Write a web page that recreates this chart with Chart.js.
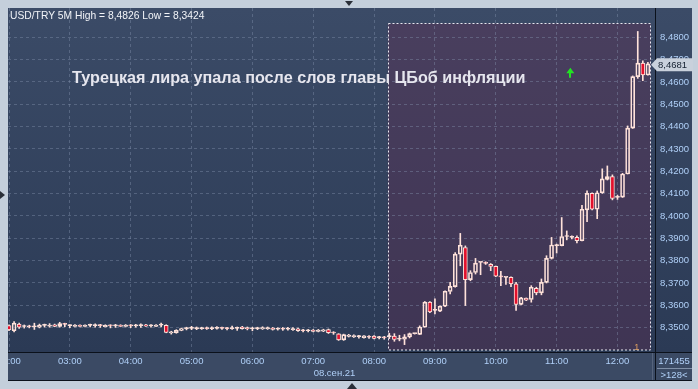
<!DOCTYPE html>
<html>
<head>
<meta charset="utf-8">
<script src="https://cdn.jsdelivr.net/npm/chart.js@4.4.1/dist/chart.umd.min.js"></script>
<style>
  html, body { margin: 0; padding: 0; background: #c4cfdb; }
  #wrap { width: 698px; height: 389px; position: relative; }
</style>
</head>
<body>
<div id="wrap"><canvas id="chart"></canvas></div>
<script>
// USD/TRY 5M candles, 02:00 .. 12:30 (08.09.21)
const opens = [
  8.3509, 8.3486, 8.3516, 8.3505, 8.3505, 8.3504, 8.3502, 8.3510, 8.3507, 8.3513,
  8.3506, 8.3517, 8.3509, 8.3505, 8.3511, 8.3505, 8.3510, 8.3509, 8.3510, 8.3504,
  8.3509, 8.3508, 8.3511, 8.3505, 8.3509, 8.3508, 8.3509, 8.3513, 8.3508, 8.3505,
  8.3511, 8.3510, 8.3476, 8.3477, 8.3488, 8.3496, 8.3497, 8.3496, 8.3496, 8.3497,
  8.3496, 8.3497, 8.3498, 8.3497, 8.3496, 8.3497, 8.3503, 8.3500, 8.3495, 8.3496,
  8.3494, 8.3495, 8.3498, 8.3493, 8.3494, 8.3493, 8.3491, 8.3495, 8.3487, 8.3486,
  8.3489, 8.3483, 8.3484, 8.3491, 8.3477, 8.3472, 8.3445, 8.3461, 8.3459, 8.3460,
  8.3455, 8.3458, 8.3462, 8.3455, 8.3455, 8.3460, 8.3462, 8.3448, 8.3448, 8.3459,
  8.3473, 8.3470, 8.3502, 8.3614, 8.3577, 8.3574, 8.3596, 8.3662, 8.3684, 8.3829,
  8.3859, 8.3715, 8.3747, 8.3792, 8.3789, 8.3784, 8.3774, 8.3728, 8.3725, 8.3725,
  8.3696, 8.3604, 8.3632, 8.3626, 8.3676, 8.3656, 8.3703, 8.3810, 8.3867, 8.3867,
  8.3908, 8.3904, 8.3904, 8.3889, 8.4027, 8.4101, 8.4030, 8.4104, 8.4164, 8.4176,
  8.4083, 8.4084, 8.4188, 8.4393, 8.4624, 8.4684, 8.4631
];
const highs = [
  8.3513, 8.3527, 8.3521, 8.3512, 8.3511, 8.3520, 8.3516, 8.3516, 8.3518, 8.3516,
  8.3524, 8.3520, 8.3514, 8.3514, 8.3513, 8.3513, 8.3516, 8.3517, 8.3515, 8.3513,
  8.3513, 8.3515, 8.3513, 8.3514, 8.3514, 8.3515, 8.3517, 8.3515, 8.3514, 8.3514,
  8.3521, 8.3513, 8.3484, 8.3491, 8.3498, 8.3502, 8.3506, 8.3503, 8.3502, 8.3503,
  8.3504, 8.3505, 8.3503, 8.3502, 8.3507, 8.3503, 8.3506, 8.3503, 8.3502, 8.3502,
  8.3504, 8.3503, 8.3501, 8.3500, 8.3501, 8.3501, 8.3500, 8.3498, 8.3493, 8.3492,
  8.3492, 8.3492, 8.3493, 8.3494, 8.3482, 8.3473, 8.3471, 8.3470, 8.3468, 8.3466,
  8.3465, 8.3464, 8.3464, 8.3461, 8.3461, 8.3475, 8.3473, 8.3466, 8.3469, 8.3476,
  8.3476, 8.3508, 8.3617, 8.3617, 8.3629, 8.3598, 8.3665, 8.3703, 8.3836, 8.3922,
  8.3866, 8.3755, 8.3810, 8.3795, 8.3795, 8.3787, 8.3776, 8.3752, 8.3728, 8.3728,
  8.3703, 8.3636, 8.3633, 8.3688, 8.3681, 8.3718, 8.3822, 8.3904, 8.3874, 8.3993,
  8.3933, 8.3911, 8.3911, 8.4048, 8.4112, 8.4104, 8.4112, 8.4211, 8.4224, 8.4184,
  8.4093, 8.4191, 8.4403, 8.4627, 8.4826, 8.4695, 8.4688
];
const lows = [
  8.3486, 8.3481, 8.3497, 8.3498, 8.3499, 8.3492, 8.3499, 8.3503, 8.3502, 8.3504,
  8.3502, 8.3504, 8.3500, 8.3503, 8.3503, 8.3503, 8.3503, 8.3502, 8.3501, 8.3503,
  8.3499, 8.3501, 8.3504, 8.3503, 8.3500, 8.3502, 8.3501, 8.3505, 8.3502, 8.3504,
  8.3503, 8.3477, 8.3471, 8.3475, 8.3486, 8.3490, 8.3491, 8.3491, 8.3492, 8.3492,
  8.3491, 8.3493, 8.3492, 8.3490, 8.3492, 8.3488, 8.3493, 8.3490, 8.3486, 8.3491,
  8.3492, 8.3492, 8.3489, 8.3489, 8.3488, 8.3489, 8.3488, 8.3483, 8.3481, 8.3481,
  8.3481, 8.3481, 8.3482, 8.3474, 8.3470, 8.3443, 8.3443, 8.3458, 8.3456, 8.3453,
  8.3453, 8.3452, 8.3449, 8.3450, 8.3448, 8.3451, 8.3439, 8.3441, 8.3424, 8.3454,
  8.3471, 8.3469, 8.3502, 8.3567, 8.3562, 8.3572, 8.3594, 8.3651, 8.3681, 8.3777,
  8.3599, 8.3710, 8.3740, 8.3737, 8.3783, 8.3755, 8.3728, 8.3688, 8.3693, 8.3684,
  8.3577, 8.3602, 8.3621, 8.3614, 8.3647, 8.3647, 8.3700, 8.3807, 8.3834, 8.3866,
  8.3893, 8.3897, 8.3879, 8.3888, 8.3974, 8.4027, 8.3988, 8.4101, 8.4161, 8.4072,
  8.4074, 8.4083, 8.4188, 8.4392, 8.4616, 8.4606, 8.4630
];
const closes = [
  8.3490, 8.3520, 8.3502, 8.3505, 8.3504, 8.3505, 8.3511, 8.3510, 8.3510, 8.3506,
  8.3518, 8.3515, 8.3509, 8.3511, 8.3505, 8.3511, 8.3510, 8.3510, 8.3509, 8.3510,
  8.3508, 8.3509, 8.3505, 8.3511, 8.3508, 8.3509, 8.3510, 8.3507, 8.3509, 8.3512,
  8.3512, 8.3479, 8.3481, 8.3488, 8.3496, 8.3496, 8.3497, 8.3497, 8.3497, 8.3496,
  8.3497, 8.3498, 8.3497, 8.3496, 8.3497, 8.3498, 8.3496, 8.3495, 8.3496, 8.3497,
  8.3500, 8.3500, 8.3492, 8.3494, 8.3493, 8.3494, 8.3496, 8.3486, 8.3486, 8.3487,
  8.3483, 8.3489, 8.3490, 8.3477, 8.3476, 8.3445, 8.3469, 8.3467, 8.3465, 8.3461,
  8.3463, 8.3457, 8.3452, 8.3456, 8.3454, 8.3461, 8.3447, 8.3449, 8.3459, 8.3473,
  8.3474, 8.3503, 8.3614, 8.3570, 8.3578, 8.3596, 8.3663, 8.3685, 8.3829, 8.3869,
  8.3715, 8.3747, 8.3789, 8.3793, 8.3788, 8.3774, 8.3730, 8.3727, 8.3726, 8.3696,
  8.3604, 8.3633, 8.3623, 8.3681, 8.3656, 8.3703, 8.3810, 8.3870, 8.3868, 8.3908,
  8.3909, 8.3905, 8.3889, 8.4030, 8.4101, 8.4030, 8.4104, 8.4166, 8.4176, 8.4079,
  8.4084, 8.4188, 8.4393, 8.4624, 8.4684, 8.4631, 8.4681
];
const yTicks = [8.35, 8.36, 8.37, 8.38, 8.39, 8.40, 8.41, 8.42, 8.43, 8.44, 8.45, 8.46, 8.47, 8.48];

// time labels, 5 minute bars starting 02:00
const times = [];
for (let i = 0; i < opens.length; i++) {
  const m = 120 + i * 5;
  times.push(String(Math.floor(m / 60)).padStart(2, '0') + ':' + String(m % 60).padStart(2, '0'));
}
const hourIdx = times.map((t, i) => t.endsWith(':00') ? i : -1).filter(i => i >= 0);

const title = 'Турецкая лира упала после слов главы ЦБоб инфляции';
const header = 'USD/TRY 5M High = 8,4826 Low = 8,3424';
const newsBar = 74.7;      // highlighted zone starts here (bar index)
const FONT = '"Liberation Sans", Arial, sans-serif';
const CANDLE = '#ffe2da';
const LABEL = '#b0d0f8';
const GRID = 'rgba(135, 150, 178, 0.4)';
const comma = v => v.toFixed(4).replace('.', ',');

const upperWick = opens.map((o, i) => ({ x: i, y: [Math.max(o, closes[i]), highs[i]] }));
const lowerWick = opens.map((o, i) => ({ x: i, y: [lows[i], Math.min(o, closes[i])] }));
const bodies = opens.map((o, i) => ({ x: i, y: [Math.min(o, closes[i]), Math.max(o, closes[i])] }));

// panels, highlight zone, overlay texts
const framePlugin = {
  id: 'frame',
  beforeDraw(chart) {
    const { ctx, chartArea: a, scales } = chart;
    ctx.save();
    ctx.fillStyle = '#c4cfdb';
    ctx.fillRect(0, 0, chart.width, chart.height);

    const g = ctx.createLinearGradient(0, a.top, 0, a.bottom);
    g.addColorStop(0, '#3b4b67');
    g.addColorStop(1, '#2b3a55');
    ctx.fillStyle = g;
    ctx.fillRect(a.left, a.top, 692 - a.left, a.bottom - a.top);

    ctx.fillStyle = '#3b4a64';
    ctx.fillRect(a.left, a.bottom, 692 - a.left, 381 - a.bottom);

    // news zone
    const zx = scales.x.getPixelForValue(newsBar);
    const zy = scales.y.getPixelForValue(8.4862);
    ctx.fillStyle = 'rgba(98, 45, 82, 0.38)';
    ctx.fillRect(zx, zy, a.right - 4 - zx, a.bottom - 2 - zy);
    ctx.restore();
  },
  afterDraw(chart) {
    const { ctx, chartArea: a, scales } = chart;
    ctx.save();

    // dashed outline of news zone
    const zx = Math.round(scales.x.getPixelForValue(newsBar)) + 0.5;
    const zy = Math.round(scales.y.getPixelForValue(8.4862)) + 0.5;
    ctx.strokeStyle = '#e8e8f0';
    ctx.lineWidth = 1;
    ctx.setLineDash([2, 2]);
    ctx.strokeRect(zx, zy, a.right - 4.5 - zx, a.bottom - 2 - zy);
    ctx.setLineDash([]);

    // frame lines
    ctx.fillStyle = '#0b111b';
    ctx.fillRect(a.right, a.top, 1, 381 - a.top);
    ctx.fillRect(a.left, a.bottom, 692 - a.left, 1);
    ctx.fillRect(a.left, 380, 692 - a.left, 1);
    ctx.fillStyle = '#56647c';
    ctx.fillRect(a.right - 3, a.bottom + 1, 1, 27);

    // outer border, also clips the first time label
    ctx.fillStyle = '#c4cfdb';
    ctx.fillRect(0, 0, a.left, chart.height);
    ctx.fillRect(0, 0, chart.width, a.top);
    ctx.fillRect(692, 0, 6, chart.height);
    ctx.fillRect(0, 381, chart.width, 8);

    // small frame arrows
    ctx.fillStyle = '#2a2f38';
    ctx.beginPath(); ctx.moveTo(345, 1); ctx.lineTo(353, 1); ctx.lineTo(349, 6); ctx.fill();
    ctx.beginPath(); ctx.moveTo(0, 191); ctx.lineTo(0, 199); ctx.lineTo(5, 195); ctx.fill();
    ctx.beginPath(); ctx.moveTo(347, 389); ctx.lineTo(357, 389); ctx.lineTo(352, 383); ctx.fill();

    // header and title
    ctx.fillStyle = '#f2f4f8';
    ctx.font = '10.3px ' + FONT;
    ctx.textBaseline = 'alphabetic';
    ctx.fillText(header, 10, 18.5);
    ctx.fillStyle = '#e6e6ee';
    ctx.font = 'bold 16.2px ' + FONT;
    ctx.fillText(title, 72, 83);

    // green event arrow
    const ax = scales.x.getPixelForValue(110.7);
    const ay = scales.y.getPixelForValue(8.4641);
    ctx.fillStyle = '#22e422';
    ctx.fillRect(Math.round(ax) - 1, ay - 2, 2, 7);
    ctx.beginPath();
    ctx.moveTo(ax - 4, ay + 0.5); ctx.lineTo(ax + 4, ay + 0.5); ctx.lineTo(ax, ay - 5); ctx.fill();

    // marker "1"
    ctx.fillStyle = '#e0a060';
    ctx.font = '9px ' + FONT;
    ctx.textAlign = 'center';
    ctx.fillText('1', scales.x.getPixelForValue(123.8), a.bottom - 2);

    // last price box
    const last = closes[closes.length - 1];
    const py = scales.y.getPixelForValue(last) + 1;
    ctx.fillStyle = '#c9d1dc';
    ctx.beginPath();
    ctx.moveTo(a.right - 4, py);
    ctx.lineTo(a.right + 2, py - 6.5);
    ctx.lineTo(693, py - 6.5);
    ctx.lineTo(693, py + 6.5);
    ctx.lineTo(a.right + 2, py + 6.5);
    ctx.closePath();
    ctx.fill();
    ctx.fillStyle = '#142030';
    ctx.font = '9.5px ' + FONT;
    ctx.textAlign = 'left';
    ctx.textBaseline = 'middle';
    ctx.fillText(comma(last), a.right + 3, py + 0.5);

    // date and corner box
    ctx.fillStyle = LABEL;
    ctx.textAlign = 'center';
    ctx.fillText('08.сен.21', (a.left + a.right) / 2 + 3, 373);
    ctx.fillText('171455', 674, 361);
    ctx.fillText('>128<', 674, 375);
    ctx.fillStyle = '#8090a8';
    ctx.fillRect(657, 368, 35, 1);
    ctx.restore();
  }
};

new Chart(document.getElementById('chart'), {
  type: 'bar',
  data: {
    datasets: [
      { data: upperWick, grouped: false, barThickness: 1, backgroundColor: CANDLE, borderWidth: 0 },
      { data: lowerWick, grouped: false, barThickness: 1, backgroundColor: CANDLE, borderWidth: 0 },
      {
        data: bodies,
        grouped: false,
        barThickness: 4,
        minBarLength: 1,
        backgroundColor: opens.map((o, i) => closes[i] < o ? '#e3102c' : 'rgba(0,0,0,0)'),
        borderColor: CANDLE,
        borderWidth: 1,
        borderSkipped: false
      }
    ]
  },
  options: {
    responsive: true,
    maintainAspectRatio: false,
    animation: false,
    devicePixelRatio: 1,
    layout: { padding: { left: 8, top: 8, right: 6, bottom: 9 } },
    plugins: { legend: { display: false }, tooltip: { enabled: false } },
    scales: {
      x: {
        type: 'linear',
        min: -0.2,
        max: 127.4,
        offset: false,
        afterBuildTicks: s => { s.ticks = hourIdx.map(v => ({ value: v })); },
        afterFit: s => { s.height = 28; s.paddingLeft = 0; s.paddingRight = 0; },
        ticks: {
          callback: v => times[v],
          color: LABEL,
          font: { size: 9.5, family: FONT },
          padding: 4,
          maxRotation: 0,
          autoSkip: false
        },
        grid: { color: GRID, drawTicks: false, offset: false },
        border: { display: false, dash: [3, 3] }
      },
      y: {
        position: 'right',
        min: 8.3391,
        max: 8.4931,
        afterBuildTicks: s => { s.ticks = yTicks.map(v => ({ value: v })); },
        afterFit: s => { s.width = 37; s.paddingTop = 0; s.paddingBottom = 0; },
        ticks: {
          callback: v => comma(v),
          color: LABEL,
          font: { size: 9.5, family: FONT },
          padding: 5
        },
        grid: { color: GRID, drawTicks: false },
        border: { display: false, dash: [3, 3] }
      }
    }
  },
  plugins: [framePlugin]
});
</script>
</body>
</html>
